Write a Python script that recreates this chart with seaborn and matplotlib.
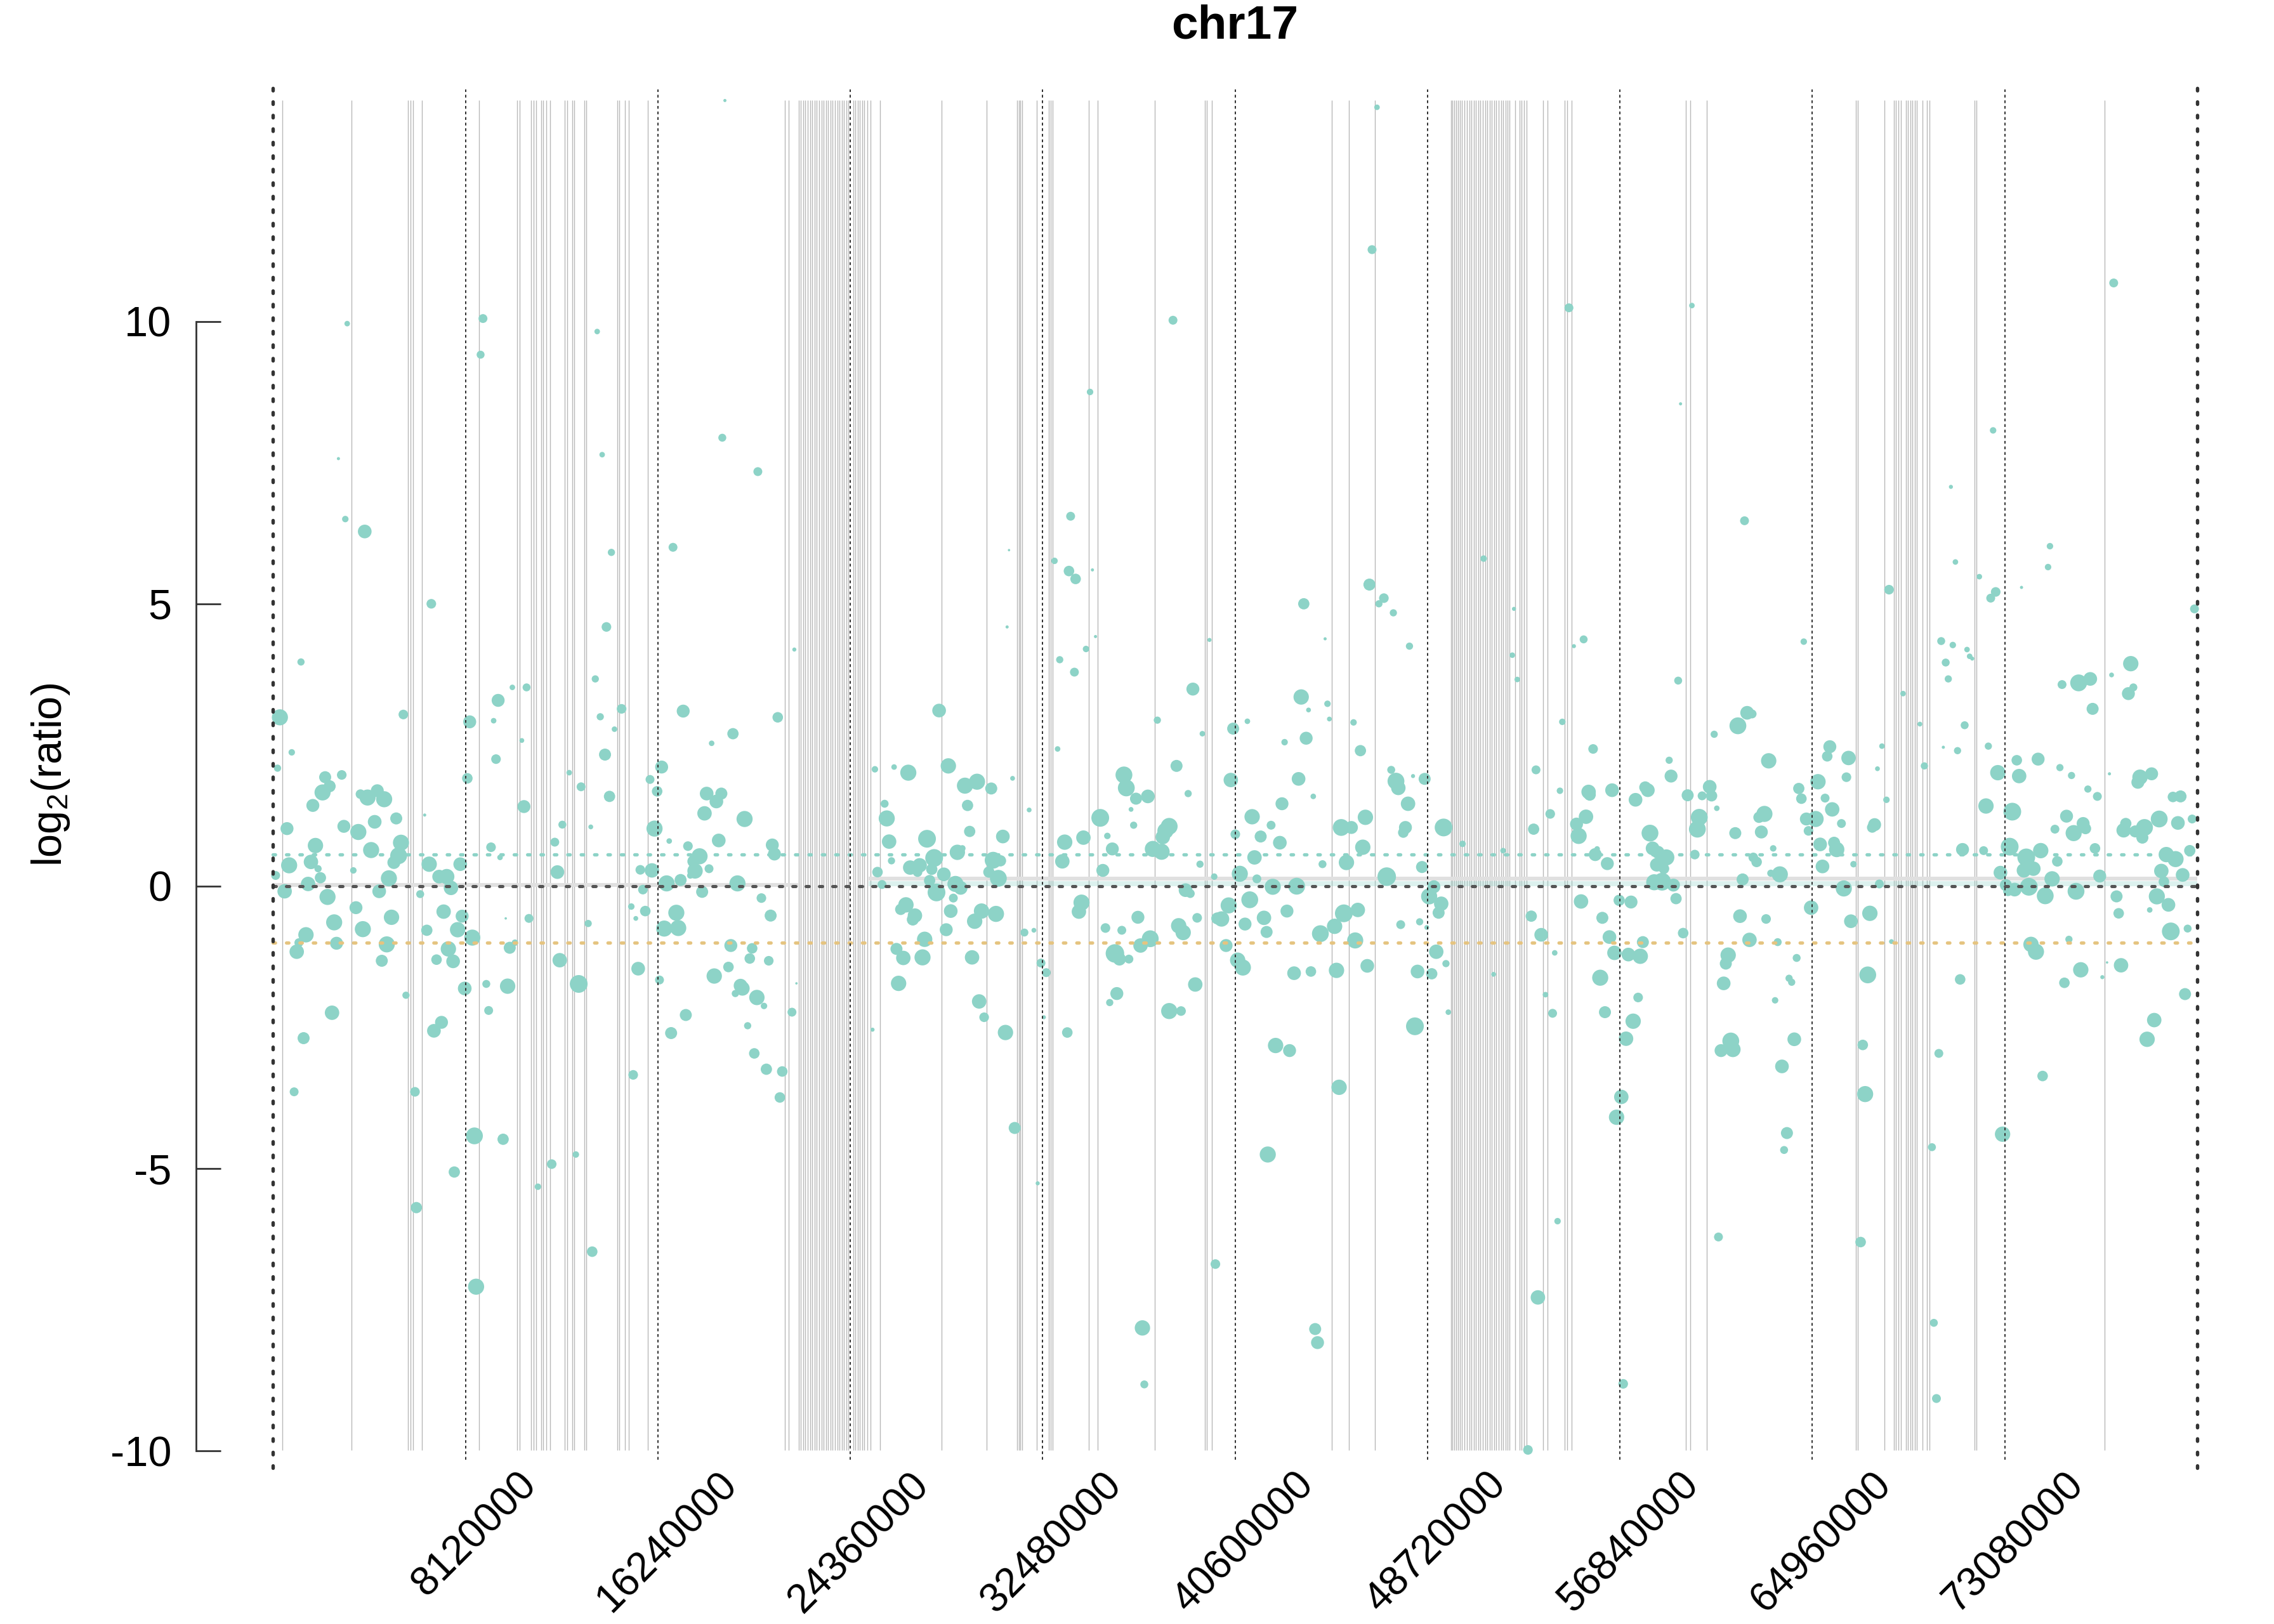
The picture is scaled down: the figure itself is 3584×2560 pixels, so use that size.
import numpy as np
import pandas as pd
import seaborn as sns
import matplotlib.pyplot as plt
from matplotlib.transforms import ScaledTranslation

# ---- chromosome / axis info ----
chrom_name = "chr17"
chrom_len = 81195210
tick_pos = [8120000, 16240000, 24360000, 32480000, 40600000,
            48720000, 56840000, 64960000, 73080000]
tick_labels = [str(t) for t in tick_pos]
y_ticks = [-10, -5, 0, 5, 10]

# thresholds
gain_cut = 0.56
loss_cut = -1.0

# segments (Mb) with mean and band
seg_start_mb = [0.0, 25.13]
seg_end_mb = [22.15, 81.195]
seg_mean = [0.02, 0.13]
seg_band_lo = [0.02, 0.0]
seg_band_hi = [0.02, 0.095]

# grey marks (Mb)
gap_mb = [
    0.39, 3.30, 5.69, 5.79, 5.91, 6.29, 8.70,
    10.31, 10.41, 10.90, 11.01, 11.10, 11.31, 11.40, 11.53, 11.69,
    12.32, 12.42, 12.62, 12.72, 13.13, 13.21, 14.52, 14.62, 14.84, 15.00, 15.81,
    21.60, 21.76, 22.19, 22.28, 22.38, 22.47, 22.57, 22.66, 22.76, 22.86, 22.95,
    23.05, 23.14, 23.24, 23.33, 23.43, 23.53, 23.62, 23.72, 23.81, 23.91, 24.00,
    24.10, 24.20, 24.29, 24.48, 24.58, 24.67, 24.77, 24.87, 24.96, 25.08, 25.22,
    25.62, 28.21, 30.12, 31.41, 31.47, 31.54, 31.62, 32.22, 32.75, 32.81, 32.90,
    34.42, 34.80, 37.22, 39.33, 39.40, 39.63,
    44.69, 45.40, 46.49,
    49.71, 49.77, 49.86, 49.94, 50.02, 50.10, 50.18, 50.28, 50.39, 50.48, 50.58,
    50.68, 50.77, 50.87, 50.96, 51.06, 51.15, 51.25, 51.35, 51.44, 51.54, 51.63,
    51.73, 51.82, 51.92, 52.02, 52.11, 52.19, 52.43, 52.62, 52.70, 52.80, 52.89,
    53.61, 53.78, 54.52, 54.61, 54.80, 59.62, 59.81, 60.50,
    66.79, 66.89, 68.01, 68.40, 68.49, 68.60, 68.70, 68.91, 68.99, 69.09, 69.18,
    69.28, 69.37, 69.61, 69.80, 69.91, 71.80, 71.90, 77.29,
]

# ---- bins: position (Mb), log2 ratio, weight ----
bin_mb = [
    # 0 - 21 Mb
    1.18, 0.29, 5.50, 0.79, 0.19, 2.20, 2.90, 2.39, 2.09, 1.68, 3.69, 3.99, 4.40, 4.69, 5.20, 6.40,
    0.59, 2.99, 3.60, 4.29, 1.79, 5.40, 4.14, 5.30, 5.10, 0.68, 1.60, 1.90, 3.39, 0.11, 2.00, 1.48,
    4.89, 0.49, 2.30, 4.48, 3.50, 2.58, 5.00, 1.39, 3.79, 1.09, 2.68, 4.80, 1.00, 4.59, 6.59, 7.01,
    7.33, 7.51, 6.21, 7.90, 7.20, 7.98, 6.49, 7.79, 8.41, 7.40, 6.90, 7.60, 5.61, 2.49, 1.29, 0.89,
    5.99, 7.11, 6.79, 8.09, 8.50, 9.71, 9.00, 9.90, 9.10, 8.30, 8.20, 9.50, 9.31, 10.10, 10.70, 10.50,
    9.41, 10.59, 9.20, 9.58, 9.99, 10.21, 10.80, 9.82, 12.10, 12.90, 13.30, 12.00, 11.89, 12.21, 12.50, 13.00,
    13.41, 13.60, 13.81, 14.71, 14.41, 14.01, 14.20, 15.91, 16.21, 16.40, 16.10, 16.72, 15.50, 15.99, 15.61, 15.12,
    15.71, 15.31, 15.41, 16.31, 15.20, 16.51, 17.02, 17.10, 16.61, 17.20, 17.51, 17.31, 18.51, 19.41, 18.30, 18.92,
    18.71, 18.21, 19.90, 18.81, 18.00, 17.74, 17.81, 17.61, 18.40, 19.60, 18.11, 20.61, 21.00, 21.07, 21.16, 19.32,
    20.22, 20.12, 20.92, 19.22, 18.62, 19.73, 19.81, 19.51, 20.42, 20.72, 17.42, 16.80, 20.03, 20.31, 20.82,
    # 21 - 42 Mb
    22.00, 21.30, 28.11, 25.40, 26.21, 26.81, 28.50, 29.20, 29.71, 30.31, 31.21, 29.31, 25.81, 25.90, 31.91, 29.40,
    26.00, 27.60, 30.80, 28.88, 29.09, 27.90, 26.10, 26.89, 27.29, 27.80, 27.20, 25.51, 28.31, 30.39, 30.70, 30.21,
    30.61, 27.71, 25.70, 28.80, 29.02, 28.00, 28.71, 26.71, 26.49, 27.09, 27.00, 28.60, 29.90, 30.51, 29.61, 28.41,
    27.50, 26.31, 26.60, 27.41, 29.50, 31.71, 32.11, 26.40, 22.09, 21.90, 29.80, 30.01, 30.91, 25.30, 21.49, 21.39,
    31.30, 32.41, 32.63, 32.53, 33.52, 33.20, 33.82, 34.31, 34.71, 33.11, 33.41, 33.31, 34.20, 34.91, 35.21, 35.42,
    35.02, 34.12, 34.01, 35.13, 35.82, 36.50, 35.53, 35.72, 36.12, 36.61, 37.02, 35.61, 35.31, 37.82, 38.32, 38.92,
    35.91, 36.01, 36.42, 36.92, 36.21, 36.32, 37.32, 38.82, 38.13, 38.62, 39.22, 40.52, 41.12, 39.52, 40.42, 37.82,
    37.66, 37.55, 37.13, 37.50, 39.12, 38.51, 38.71, 40.33, 41.22, 40.03, 39.85, 39.00, 38.22, 38.41, 41.02, 41.82,
    41.93, 40.22, 40.71, 40.93, 41.32, 42.12, 40.61, 41.68, 41.42, 40.80, 39.72, 41.52, 42.19, 42.31,
    # 42 - 63 Mb
    44.40, 47.96, 55.31, 54.90, 52.30, 52.51, 43.39, 44.50, 43.70, 44.58, 45.60, 43.60, 42.69, 45.89, 43.28, 43.90,
    42.58, 47.19, 48.11, 47.39, 47.49, 48.60, 47.90, 46.10, 45.08, 45.51, 47.79, 47.70, 49.40, 42.49, 45.99, 45.30,
    44.29, 48.49, 50.20, 51.91, 47.00, 43.20, 48.99, 48.79, 49.30, 49.19, 42.79, 45.19, 45.78, 44.80, 44.20, 45.67,
    47.59, 48.39, 48.69, 49.09, 49.50, 46.18, 43.09, 43.80, 44.88, 48.30, 48.90, 51.51, 49.60, 48.19, 42.90, 44.99,
    42.05, 53.30, 54.41, 54.31, 53.90, 53.20, 55.71, 55.52, 55.57, 56.51, 55.41, 55.01, 55.10, 55.88, 55.80, 56.31,
    55.20, 56.81, 57.31, 53.10, 53.52, 54.09, 56.10, 56.40, 56.61, 57.20, 57.70, 57.81, 56.01, 53.70, 54.00, 56.21,
    57.40, 57.10, 57.61, 56.90, 56.70, 59.30, 57.50, 57.91, 58.02, 58.92, 59.00, 59.70, 60.31, 60.63, 60.71, 60.82,
    60.93, 60.19, 60.11, 58.11, 58.22, 58.45, 58.80, 60.00, 58.40, 58.70, 58.29, 58.62, 59.10, 59.21, 59.51, 61.82,
    62.21, 62.42, 63.12, 61.71, 62.81, 62.71, 62.94, 63.31, 62.47, 62.61, 63.21, 62.02, 61.91, 63.01, 62.31, 61.41,
    61.31, 61.22, 63.39, 61.52, 61.61, 61.11,
    # 63 - 81 Mb
    64.60, 70.40, 70.89, 71.49, 71.60, 71.71, 70.59, 70.70, 68.79, 69.50, 71.39, 70.49, 71.09, 72.39, 67.90, 67.71,
    69.69, 68.09, 65.70, 65.59, 66.49, 66.40, 65.20, 64.39, 64.50, 65.50, 65.80, 64.71, 65.10, 66.19, 64.80, 67.59,
    67.49, 65.29, 65.88, 65.99, 65.39, 66.70, 63.59, 66.29, 67.79, 64.91, 67.39, 66.59, 63.50, 68.30, 64.30, 63.98,
    64.09, 67.30, 71.20, 64.20, 67.09, 70.30, 63.68, 67.19, 63.89, 72.99, 71.30, 72.19, 72.29, 72.79, 73.59, 73.69,
    73.40, 73.29, 72.90, 73.13, 73.22, 73.50, 73.99, 73.89, 74.29, 74.10, 74.60, 75.30, 75.08, 74.79, 74.49, 75.41,
    75.90, 75.50, 76.20, 76.69, 76.79, 77.59, 78.40, 78.51, 78.30, 76.59, 76.99, 77.50, 75.69, 75.20, 75.99, 76.39,
    76.49, 76.89, 77.09, 76.09, 77.80, 77.89, 75.79, 74.19, 74.40, 76.29, 75.60, 77.20, 77.40, 77.99, 74.68, 78.79,
    78.70, 79.28, 80.18, 80.50, 79.60, 80.39, 80.99, 78.19, 78.10, 78.59, 78.98, 78.89, 80.89, 79.90, 80.29, 79.69,
    80.59, 79.80, 79.50, 79.99, 79.20, 80.09, 80.80, 80.69, 79.39, 79.09,
    # high outliers
    19.07, 3.13, 8.86, 13.68, 8.76, 37.98, 34.48, 18.96, 13.89, 2.76, 20.46, 3.05, 3.87, 33.66, 16.88, 14.28,
    31.06, 32.98, 33.59, 34.58, 33.87, 6.68, 14.07, 30.98,
    46.59, 46.38, 77.68, 54.69, 59.88, 59.40, 72.59, 70.81, 62.10, 74.99, 71.00, 74.91, 51.09, 72.01, 68.20, 72.70,
    73.79, 72.49, 46.27, 46.88, 46.67, 47.28, 43.50, 52.37, 81.09,
    # low outliers
    12.78, 11.76, 7.65, 11.18, 32.27, 6.05, 13.47, 39.77, 8.57, 36.69, 36.77,
    41.98, 63.77, 70.01, 54.21, 61.00, 67.00, 53.38, 43.98, 44.08, 70.09, 56.98, 70.20, 52.96,
]

bin_log2 = [
    3.97, 2.99, 3.04, 2.37, 2.09, 1.93, 1.97, 1.77, 1.66, 1.43, 1.63, 1.57, 1.69, 1.54, 1.20, 1.26,
    1.02, 1.06, 0.96, 1.14, 0.72, 0.77, 0.64, 0.54, 0.42, 0.37, 0.43, 0.31, 0.28, 0.19, 0.15, 0.04,
    0.14, -0.09, -0.19, -0.09, -0.38, -0.64, -0.55, -0.86, -0.76, -1.00, -1.01, -1.03, -1.16, -1.32, 0.39, 0.17,
    0.17, -0.03, -0.14, 0.39, -0.45, -0.53, -0.78, -0.77, -0.91, -1.11, -1.30, -1.33, -1.93, -2.24, -2.69, -3.64,
    -3.64, -2.41, -2.56, -1.81, -4.42, -4.48, -1.73, -1.77, -2.20, 2.91, 1.91, 3.29, 2.93, 3.52, 3.52, 2.58,
    2.25, 1.41, 0.69, 0.51, -1.09, -1.00, -0.57, -0.57, -1.31, -1.73, -0.66, 0.25, 0.78, 1.09, 2.01, 1.76,
    1.05, 3.67, 3.00, 3.14, 2.78, 2.33, 1.59, 1.89, 1.68, 2.11, 1.02, 0.80, 0.29, 0.28, -0.06, -0.36,
    -0.44, -0.57, -1.46, -1.66, -3.34, -0.75, -0.47, -0.74, 0.05, 0.11, 0.71, 3.10, 2.53, 2.70, 1.64, 1.64,
    1.50, 1.29, 1.19, 0.81, 0.53, 0.44, 0.27, 0.19, 0.31, 0.05, -0.10, -0.21, -0.52, 0.73, 0.57, -1.05,
    -1.10, -1.28, -1.32, -1.43, -1.59, -1.76, -1.81, -1.90, -1.97, -2.12, -2.28, -2.60, -2.47, -2.96, -3.24,
    4.19, 2.99, 3.11, 2.07, 2.11, 2.01, 2.13, 1.78, 1.85, 1.73, 1.91, 1.43, 1.46, 1.20, 1.35, 0.97,
    0.79, 0.84, 0.88, 0.60, 0.67, 0.50, 0.45, 0.33, 0.37, 0.30, 0.25, 0.25, 0.21, 0.46, 0.45, 0.25,
    0.14, 0.10, 0.03, 0.04, -0.03, -0.11, -0.21, -0.33, -0.41, -0.52, -0.59, -0.44, -0.44, -0.49, -0.62, -0.77,
    -0.94, -1.11, -1.27, -1.26, -1.26, -0.82, -0.78, -1.72, -1.72, -2.23, -2.04, -2.32, -2.59, -2.54, -3.28, -3.74,
    -4.28, -1.36, -1.53, -2.32, -2.59, 4.01, 3.79, 4.20, 4.42, 2.43, 0.78, 0.44, 0.86, 1.21, 0.89, 0.66,
    0.28, -0.29, -0.45, -0.74, -0.78, -0.55, -1.19, -1.29, -1.29, -1.05, -0.93, -1.90, -2.06, -2.21, -2.21, -1.74,
    1.97, 1.74, 1.55, 1.59, 1.36, 1.08, 2.94, 3.49, 2.13, 1.64, 2.70, 2.79, 2.92, 4.36, 1.88, 1.06,
    0.98, 0.87, 0.66, 0.61, 0.39, -0.07, -0.13, -0.34, -0.24, -0.58, -0.57, -0.56, -0.70, -0.82, -0.67, -0.56,
    -0.81, -1.05, -1.31, -1.44, 1.23, 1.08, 0.92, 0.88, 0.51, 0.22, 0.17, 0.13, -0.01, -2.82,
    4.38, 4.25, 4.37, 4.25, 4.09, 3.66, 3.35, 3.23, 3.12, 2.96, 2.90, 2.62, 2.55, 2.40, 1.90, 1.59,
    1.46, 2.06, 1.95, 1.86, 1.74, 1.90, 1.46, 1.22, 1.04, 1.04, 1.04, 0.95, 1.04, 0.77, 0.69, 0.42,
    0.39, 0.34, 0.75, 0.63, 0.17, 0.00, -0.01, -0.18, -0.31, -0.47, -0.44, -0.48, -0.42, -0.71, -0.84, -0.96,
    -0.68, -0.63, -0.73, -1.16, -1.37, -1.41, -1.54, -1.51, -1.49, -1.51, -1.55, -1.56, -2.23, -2.48, -2.91, -3.56,
    -0.80, 2.06, 2.91, 1.69, 1.28, 1.01, 2.43, 1.67, 1.62, 1.70, 1.23, 1.10, 0.89, 0.66, 0.56, 0.40,
    -0.27, -0.25, -0.28, -0.53, -0.86, -1.18, -0.56, -0.90, -1.18, -1.21, -1.24, -0.99, -1.62, -1.92, -2.25, -2.23,
    -2.39, -2.70, -1.97, -3.73, -4.09, 3.64, 1.53, 1.75, 1.70, 2.23, 1.95, 1.61, 1.60, 1.76, 1.60, 2.69,
    1.38, 1.22, 1.01, 0.94, 0.67, 0.60, 0.51, 0.56, 0.38, 0.31, 0.07, 0.08, 0.02, -0.22, -0.83, 2.84,
    3.07, 3.05, 2.22, 0.94, 0.96, 1.22, 1.28, 0.67, 0.51, 0.43, 0.23, 0.12, -0.53, -0.58, -0.95, -1.22,
    -1.37, -1.72, -2.02, -2.74, -2.89, -2.91,
    4.33, 4.34, 4.27, 4.19, 4.07, 4.03, 3.96, 3.67, 3.41, 2.87, 2.85, 2.46, 2.40, 2.48, 2.48, 2.08,
    2.13, 1.53, 2.47, 2.30, 2.27, 1.93, 1.85, 1.73, 1.55, 1.56, 1.36, 1.19, 1.19, 1.11, 0.98, 1.09,
    1.04, 0.74, 0.77, 0.65, 0.35, 0.39, 0.21, -0.04, 0.04, -0.38, -0.48, -0.62, -0.99, -0.98, -1.27, -1.63,
    -1.70, -1.57, -1.65, -2.71, -2.81, -2.96, -3.19, -3.68, -4.37, -4.39, 0.65, 0.63, 1.42, 2.01, 2.23, 1.95,
    1.32, 0.70, 0.24, 0.02, -0.09, -0.06, 0.51, 0.28, 0.31, -0.01, 0.63, 0.44, 0.13, -0.17, 2.25, 2.10,
    1.96, 3.57, 3.60, 3.67, 3.14, 3.74, 3.94, 3.52, 3.41, 1.72, 1.59, 1.99, 1.24, 1.01, 0.94, 1.11,
    1.02, 0.67, 0.18, -0.09, -0.18, -0.48, -0.94, -1.03, -1.16, -1.48, -1.71, -1.61, -1.35, -1.40, -3.36, 1.93,
    1.84, 1.99, 1.58, 1.59, 1.19, 1.12, 1.19, 1.11, 0.99, 0.97, 1.04, 0.86, 0.63, 0.56, 0.48, 0.27,
    0.20, 0.08, -0.18, -0.33, -0.42, -0.80, -0.75, -1.91, -2.37, -2.71,
    13.91, 9.96, 10.05, 9.82, 9.41, 10.02, 8.75, 7.94, 7.64, 7.57, 7.34, 6.50, 6.28, 6.55, 6.00, 5.91,
    5.95, 5.76, 5.58, 5.60, 5.44, 5.00, 4.59, 4.59,
    13.79, 11.27, 10.68, 10.24, 10.28, 8.54, 8.07, 7.07, 6.47, 6.02, 5.74, 5.65, 5.80, 5.48, 5.25, 5.21,
    5.29, 5.10, 5.34, 5.10, 5.00, 4.84, 5.00, 4.91, 4.91,
    -4.75, -4.92, -5.06, -5.32, -5.26, -5.69, -6.47, -6.69, -7.09, -7.82, -8.82,
    -4.75, -4.67, -4.62, -5.93, -6.21, -6.30, -7.28, -7.84, -8.08, -7.73, -8.81, -9.07, -9.98,
]

bin_weight = [
    .39, .87, .52, .35, .39, .65, .52, .65, .87, .70, .52, .87, .70, .87, .65, .17,
    .70, .70, .87, .74, .83, .87, .87, .91, .70, .87, .78, .39, .35, .48, .61, .78,
    .87, .78, .87, .74, .70, .87, .83, .83, .87, .48, .70, .87, .78, .65, .83, .74,
    .83, .78, .43, .74, .78, .70, .61, .83, .87, .83, .57, .74, .39, .78, .65, .48,
    .52, .70, .74, .74, .91, .61, .43, .83, .48, .70, .57, .70, .30, .30, .43, .26,
    .52, .70, .52, .30, .65, .35, .48, .13, .78, .96, .39, .74, .48, .43, .30, .48,
    .26, .39, .39, .52, .30, .65, .61, .48, .57, .70, .87, .30, .52, .78, .52, .35,
    .57, .26, .74, .48, .52, .87, .87, .87, .87, .65, .52, .70, .30, .61, .74, .65,
    .74, .78, .87, .74, .87, .65, .83, .35, .48, .87, .65, .52, .65, .70, .70, .70,
    .57, .57, .52, .57, .83, .74, .78, .39, .83, .35, .65, .65, .39, .57, .61,
    .22, .57, .74, .35, .30, .87, .83, .87, .87, .65, .26, .61, .43, .87, .26, .61,
    .78, .96, .74, .83, .35, .96, .39, .78, .78, .61, .52, .57, .74, .91, .61, .61,
    .91, .61, .48, .87, .74, .96, .48, .83, .61, .78, .65, .74, .83, .87, .83, .70,
    .83, .65, .78, .87, .78, .43, .26, .83, .13, .48, .78, .52, .83, .22, .57, .57,
    .65, .48, .48, .22, .57, .39, .48, .35, .17, .30, .83, .78, .78, .96, .35, .70,
    .70, .87, .78, .52, .48, .70, 1.0, .70, .48, .78, .91, .70, .39, .87, .52, .78,
    .91, .91, .65, .74, .26, .39, .39, .70, .65, .39, .30, .65, .30, .22, .78, .91,
    .87, .78, .87, .87, .39, .74, .48, .87, .91, .83, .65, .52, .83, .83, .70, .78,
    .65, .70, .83, .87, .83, .48, .52, .65, .78, .87, .35, .48, .87, .83,
    .17, .39, .43, .22, .30, .30, .83, .35, .26, .26, .35, .70, .35, .61, .74, .30,
    .70, .43, .22, .91, .78, .65, .78, .83, .91, .70, .70, .57, .96, .74, .83, .83,
    .43, .65, .35, .30, 1.0, .91, .70, .87, .78, .65, .70, .96, .78, .83, .91, .87,
    .48, .39, .26, .78, .39, .74, .74, .57, .83, .74, .61, .26, .30, .96, .70, .83,
    .26, .48, .35, .35, .52, .61, .52, .78, .65, .74, .78, .70, .87, .30, .70, .70,
    .78, .61, .70, .61, .74, .30, .65, .74, .78, .74, .83, .65, .87, .30, .48, .65,
    .83, .78, .52, .78, .83, .43, .74, .65, .74, .39, .70, .65, .48, .74, .61, .39,
    .30, .91, .91, .91, .74, .70, .87, .52, .74, .57, .87, .96, .70, .61, .57, .91,
    .74, .48, .83, .65, .70, .61, .87, .35, .52, .57, .39, .65, .74, .52, .78, .83,
    .65, .74, .35, .91, .83, .70,
    .35, .43, .35, .30, .30, .22, .43, .39, .30, .26, .43, .17, .39, .39, .30, .26,
    .39, .35, .70, .57, .78, .52, .83, .61, .57, .48, .78, .70, .87, .48, .52, .70,
    .57, .74, .65, .83, .74, .35, .87, .87, .48, .78, .83, .74, .43, .26, .43, .39,
    .39, .91, .57, .74, .57, .48, .74, .87, .65, .83, .70, .48, .83, .83, .57, .78,
    .96, .96, .74, .65, .52, .74, .96, .78, .78, .96, .83, .57, .83, .91, .70, .39,
    .39, .48, .91, .74, .65, .26, .83, .43, .70, .39, .48, .17, .70, .48, .87, .70,
    .61, .57, .70, .91, .65, .57, .39, .83, .87, .83, .57, .22, .13, .78, .57, .83,
    .70, .70, .57, .65, .91, .74, .48, .61, .78, .65, .91, .65, .61, .83, .87, .78,
    .74, .57, .87, .74, .30, .96, .43, .65, .78, .83,
    .17, .30, .48, .30, .43, .48, .35, .43, .30, .17, .48, .35, .74, .48, .48, .39,
    .13, .35, .57, .17, .57, .52, .52, .17,
    .30, .48, .48, .48, .30, .17, .35, .22, .48, .35, .30, .35, .35, .30, .52, .52,
    .17, .48, .65, .52, .39, .39, .61, .22, .48,
    .35, .52, .61, .35, .22, .61, .57, .52, .87, .83, .43,
    .87, .43, .43, .35, .48, .57, .78, .65, .70, .43, .52, .48, .52,
]

bins = pd.DataFrame({
    "pos": np.array(bin_mb) * 1e6,
    "log2": bin_log2,
    "weight": bin_weight,
})

# ---- style ----
sns.set_style("white")
plt.rcParams["font.family"] = ["Liberation Sans", "DejaVu Sans"]
plt.rcParams["mathtext.fontset"] = "custom"
plt.rcParams["mathtext.rm"] = "Liberation Sans"
plt.rcParams["mathtext.it"] = "Liberation Sans:italic"
plt.rcParams["text.color"] = "black"

POINT = "#8DD3C7"
GOLD = "#E5C480"
DARK = "#333333"

DPI = 200
fig = plt.figure(figsize=(3584 / DPI, 2560 / DPI), dpi=DPI)
ax = fig.add_axes([0.0862, 0.0738, 0.9138, 0.8977])
ax.set_xlim(-3.25e6, 84.445e6)
ax.set_ylim(-10.94, 14.87)

ymin, ymax = bins["log2"].min(), bins["log2"].max()

# grey marks
ax.vlines(np.array(gap_mb) * 1e6, ymin, ymax, colors="#B8B8B8", lw=0.5, zorder=1)

# segments
for s, e, m, lo, hi in zip(seg_start_mb, seg_end_mb, seg_mean, seg_band_lo, seg_band_hi):
    if hi > lo:
        ax.fill_between([s * 1e6, e * 1e6], lo, hi, color=POINT, alpha=0.3, lw=0, zorder=2)
    ax.plot([s * 1e6, e * 1e6], [m, m], color="#E0E0E0", lw=2.2, solid_capstyle="butt", zorder=2)

# bins
sns.scatterplot(data=bins, x="pos", y="log2", s=(10.5 * bins["weight"]) ** 2,
                color=POINT, linewidth=0, ax=ax, zorder=3, legend=False)

# horizontal reference lines
ax.plot([0, chrom_len], [gain_cut, gain_cut], color=POINT, lw=1.9,
        linestyle=(0, (0.7, 3.3)), dash_capstyle="round", zorder=4)
ax.plot([0, chrom_len], [loss_cut, loss_cut], color=GOLD, lw=1.9,
        linestyle=(0, (0.7, 3.3)), dash_capstyle="round", zorder=4)
ax.plot([0, chrom_len], [0, 0], color="#555555", lw=1.8,
        linestyle=(0, (1.0, 3.2)), dash_capstyle="round", zorder=4)

# vertical tick / boundary lines
for t in tick_pos:
    ax.plot([t, t], [ymin - 0.17, ymax + 0.2], color=DARK, lw=0.72,
            linestyle=(0, (2.2, 2.2)), zorder=5)
for b in [0, chrom_len]:
    ax.plot([b, b], [ymin - 0.32, ymax + 0.37], color=DARK, lw=1.95,
            linestyle=(0, (0.7, 3.23)), dash_capstyle="round", zorder=5)

# axes
for side in ["top", "right", "bottom"]:
    ax.spines[side].set_visible(False)
ax.spines["left"].set_bounds(-10, 10)
ax.spines["left"].set_color("#333333")
ax.spines["left"].set_linewidth(1.0)
ax.set_yticks(y_ticks)
ax.set_yticklabels([str(v) for v in y_ticks])
ax.tick_params(axis="y", left=True, direction="in", length=14, width=1.0, color="#333333",
               pad=14, labelsize=24, labelcolor="black")
ax.set_xticks(tick_pos)
ax.set_xticklabels(tick_labels, rotation=45, ha="center")
ax.tick_params(axis="x", bottom=False, length=0, pad=-22, labelsize=23, labelcolor="black")
shift = ScaledTranslation(0.07, 0, fig.dpi_scale_trans)
for lbl in ax.get_xticklabels():
    lbl.set_transform(lbl.get_transform() + shift)
ax.set_xlabel("")
ax.set_ylabel("")

fig.text(0.0223, 0.5227, r"log$_2$(ratio)", rotation=90, ha="center", va="center",
         fontsize=24, color="black")
fig.text(0.5431, 0.984, chrom_name, ha="center", va="center", fontsize=27,
         fontweight="bold", color="black")

fig.savefig("out.png", dpi=DPI)
plt.close(fig)
